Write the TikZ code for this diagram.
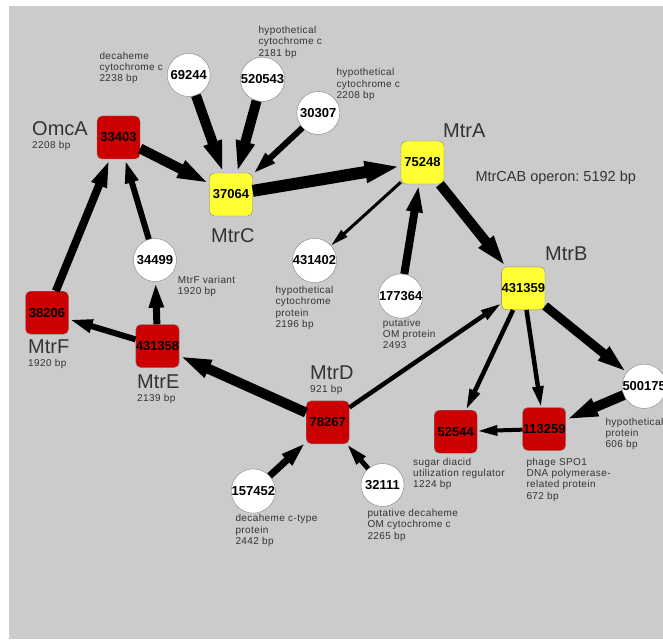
\documentclass[tikz,border=0pt]{standalone}
\usepackage{fontspec}
\setmainfont{Liberation Sans}
\newfontfamily\notefont[LetterSpace=4]{Liberation Sans}
\usepackage{xcolor}
\usepackage{tikz}
\usetikzlibrary{arrows.meta,positioning}
\frenchspacing

\definecolor{bggray}{HTML}{CBCBCB}
\definecolor{mtrred}{HTML}{CC0000}
\definecolor{mtryellow}{HTML}{FFFF33}
\definecolor{edgegray}{HTML}{808080}
\definecolor{textgray}{HTML}{333333}

\begin{document}
\begin{tikzpicture}[
  x=1pt, y=-1pt,
  gene/.style={draw=edgegray, rounded corners=5pt, minimum size=43pt, inner sep=0pt, font=\fontsize{13}{13}\selectfont\bfseries},
  core/.style={gene, fill=mtryellow},
  other/.style={gene, fill=mtrred},
  hit/.style={circle, draw=edgegray, fill=white, minimum size=43pt, inner sep=0pt, font=\fontsize{13}{13}\selectfont\bfseries},
  desc/.style={anchor=north west, inner sep=0pt, align=left, text=textgray, font=\notefont\fontsize{10}{11.3}\selectfont},
  gname/.style={anchor=base west, inner sep=0pt, text=textgray, font=\fontsize{20}{20}\selectfont},
  bp/.style={anchor=base west, inner sep=0pt, text=textgray, font=\notefont\fontsize{10}{10}\selectfont},
  flow/.style={line width=#1pt, -{Triangle[length=12pt 2, width=5pt 1.2]}}
]
\useasboundingbox (0,0) rectangle (663,639);
\fill[bggray] (9,6) rectangle (663,639);

% operon genes and neighbours
\node[core] (mtrC) at (231,194.5) {37064};
\node[core] (mtrA) at (422.5,162.5) {75248};
\node[core] (mtrB) at (523.3,288.3) {431359};
\node[other] (omcA) at (118.5,137.5) {33403};
\node[other] (mtrF) at (47,312.7) {38206};
\node[other] (mtrE) at (157.5,346) {431358};
\node[other] (mtrD) at (327.7,422.3) {78267};
\node[other] (n52544) at (455.7,431.7) {52544};
\node[other] (n113259) at (544.2,429) {113259};
\node[hit] (n69244) at (188.7,75) {69244};
\node[hit] (n520543) at (262.5,79.3) {520543};
\node[hit] (n30307) at (318.3,113) {30307};
\node[hit] (n34499) at (155,260) {34499};
\node[hit] (n431402) at (314.5,260.5) {431402};
\node[hit] (n177364) at (400.7,296) {177364};
\node[hit] (n500175) at (644.2,386.3) {500175};
\node[hit] (n157452) at (253.3,491) {157452};
\node[hit] (n32111) at (382.5,485) {32111};

% gene names
\node[gname] (lomcA) at (32,136) {OmcA};
\node[bp] at (32,148.5) {2208 bp};
\node[gname] (lmtrA) at (443,137.3) {MtrA};
\node[gname] (lmtrC) at (211,242.7) {MtrC};
\node[gname] (lmtrB) at (545,260) {MtrB};
\node[gname] (lmtrF) at (28,353.3) {MtrF};
\node[bp] at (28,366.5) {1920 bp};
\node[gname] (lmtrE) at (137,388) {MtrE};
\node[bp] at (137,401.5) {2139 bp};
\node[gname] (lmtrD) at (310,379.3) {MtrD};
\node[bp] at (310,392.5) {921 bp};
\node[anchor=base west, inner sep=0pt, text=textgray, font=\fontsize{14.5}{14.5}\selectfont] (operon) at (475.3,181.7) {MtrCAB operon: 5192 bp};

% annotations
\node[desc] at (99.3,51.7) {decaheme\\cytochrome c\\2238 bp};
\node[desc] at (258.3,26) {hypothetical\\cytochrome c\\2181 bp};
\node[desc] at (336.3,68.3) {hypothetical\\cytochrome c\\2208 bp};
\node[desc] at (177.7,275.7) {MtrF variant\\1920 bp};
\node[desc] at (275.3,286) {hypothetical\\cytochrome\\protein\\2196 bp};
\node[desc] at (382.7,318.7) {putative\\OM protein\\2493};
\node[desc] at (605.3,417.7) {hypothetical\\protein\\606 bp};
\node[desc] at (413,457.7) {sugar diacid\\utilization regulator\\1224 bp};
\node[desc] at (526.3,457.7) {phage SPO1\\DNA polymerase-\\related protein\\672 bp};
\node[desc] at (235.3,514.3) {decaheme c-type\\protein\\2442 bp};
\node[desc] at (367.3,509) {putative decaheme\\OM cytochrome c\\2265 bp};

\draw[flow=10] (n69244) -- (mtrC);
\draw[flow=10] (n520543) -- (mtrC);
\draw[flow=6] (n30307) -- (mtrC);
\draw[flow=10] (omcA) -- (mtrC);
\draw[flow=12] (mtrC) -- (mtrA);
\draw[flow=3] (mtrA) -- (n431402);
\draw[flow=8] (n177364) -- (mtrA);
\draw[flow=10] (mtrA) -- (mtrB);
\draw[flow=6] (n34499) -- (omcA);
\draw[flow=8] (mtrF) -- (omcA);
\draw[flow=7] (mtrE) -- (n34499);
\draw[flow=6] (mtrE) -- (mtrF);
\draw[flow=10] (mtrD) -- (mtrE);
\draw[flow=4.5] (mtrD) -- (mtrB);
\draw[flow=4.5] (mtrB) -- (n52544);
\draw[flow=4.5] (mtrB) -- (n113259);
\draw[flow=9] (mtrB) -- (n500175);
\draw[flow=10] (n500175) -- (n113259);
\draw[flow=4] (n113259) -- (n52544);
\draw[flow=7] (n157452) -- (mtrD);
\draw[flow=5] (n32111) -- (mtrD);
\end{tikzpicture}
\end{document}
